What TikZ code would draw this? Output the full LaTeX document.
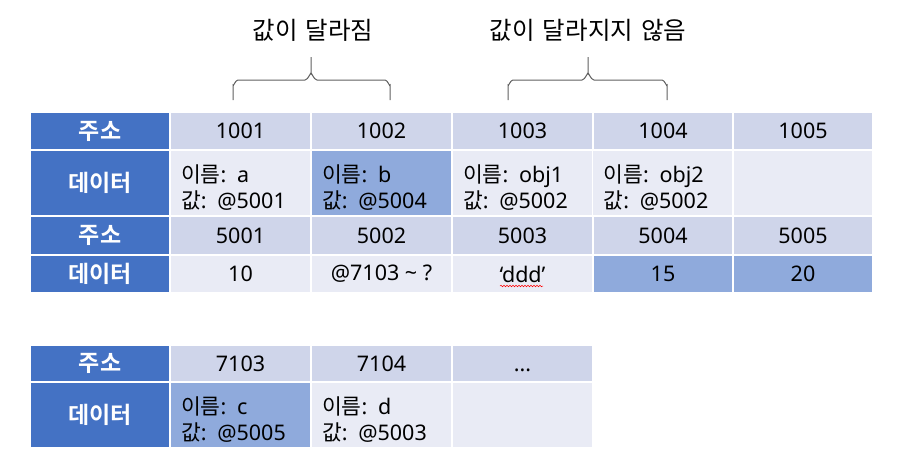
\documentclass[tikz,border=0pt]{standalone}
\usepackage{fontspec}
\setmainfont{Noto Sans}
\newfontfamily\kr{Noto Sans CJK KR}[BoldFont={Noto Sans CJK KR Bold}]
\usetikzlibrary{decorations.pathmorphing}
\definecolor{hdr}{HTML}{4472C4}
\definecolor{addr}{HTML}{CFD5EA}
\definecolor{dat}{HTML}{E9EBF5}
\definecolor{hil}{HTML}{8FAADC}
\definecolor{bracec}{HTML}{5F5F5F}
\newcommand\mycell[7]{\node[cellbox,#6,minimum width={(#4-#2)*1pt},minimum height={(#5-#3)*1pt}] (#1) at ({(#2+#4)/2},{(#3+#5)/2}) {#7};}
\newcommand\nm[1]{\rule{0pt}{26pt}{\kr 이름}: #1}
\newcommand\vl[1]{{\kr 값}: #1}
\tikzset{
  cellbox/.style={draw=white,line width=1.5pt,inner sep=0pt,font=\fontsize{21.5}{26}\selectfont,text=black},
  hdrcell/.style={fill=hdr,text=white,font=\fontsize{23}{26}\selectfont\kr\bfseries},
  addrcell/.style={fill=addr},
  datcell/.style={fill=dat},
  hilcell/.style={fill=hil},
  leftcell/.style={text width=119pt,inner xsep=11pt,inner ysep=0pt,align=left},
  brace/.style={draw=bracec,line width=1pt},
  lbl/.style={font=\fontsize{24.5}{27}\selectfont\kr,inner sep=0pt}
}
\begin{document}
\begin{tikzpicture}[x=1pt,y=-1pt]
\useasboundingbox (0,0) rectangle (911,475);
% labels
\node[lbl] (l1) at (313,30) {값이\hspace{0.1em} 달라짐};
\node[lbl] (l2) at (588,30) {값이\hspace{0.1em} 달라지지\hspace{0.1em} 않음};
% braces
\draw[brace] (233,100) -- (233,85) to[out=-90,in=180] (238,80) -- (305,80) to[out=0,in=90] (311,74) -- (311,57);
\draw[brace] (311,74) to[out=90,in=180] (317,80) -- (385,80) to[out=0,in=-90] (390,85) -- (390,100);
\draw[brace] (508,100) -- (508,85) to[out=-90,in=180] (513,80) -- (582,80) to[out=0,in=90] (588,74) -- (588,57);
\draw[brace] (588,74) to[out=90,in=180] (594,80) -- (662,80) to[out=0,in=-90] (667,85) -- (667,100);
% table 1 row 1
\mycell{h1}{30}{112}{170}{150}{hdrcell}{주소}
\mycell{a1}{170}{112}{311}{150}{addrcell}{1001}
\mycell{a2}{311}{112}{452}{150}{addrcell}{1002}
\mycell{a3}{452}{112}{593}{150}{addrcell}{1003}
\mycell{a4}{593}{112}{733}{150}{addrcell}{1004}
\mycell{a5}{733}{112}{873}{150}{addrcell}{1005}
% row 2
\mycell{h2}{30}{150}{170}{216}{hdrcell}{데이터}
\mycell{d1}{170}{150}{311}{216}{datcell,leftcell}{\nm{a}\\\vl{@5001}}
\mycell{d2}{311}{150}{452}{216}{hilcell,leftcell}{\nm{b}\\\vl{@5004}}
\mycell{d3}{452}{150}{593}{216}{datcell,leftcell}{\nm{obj1}\\\vl{@5002}}
\mycell{d4}{593}{150}{733}{216}{datcell,leftcell}{\nm{obj2}\\\vl{@5002}}
\mycell{d5}{733}{150}{873}{216}{datcell}{}
% row 3
\mycell{h3}{30}{216}{170}{255}{hdrcell}{주소}
\mycell{b1}{170}{216}{311}{255}{addrcell}{5001}
\mycell{b2}{311}{216}{452}{255}{addrcell}{5002}
\mycell{b3}{452}{216}{593}{255}{addrcell}{5003}
\mycell{b4}{593}{216}{733}{255}{addrcell}{5004}
\mycell{b5}{733}{216}{873}{255}{addrcell}{5005}
% row 4
\mycell{h4}{30}{255}{170}{293}{hdrcell}{데이터}
\mycell{e1}{170}{255}{311}{293}{datcell}{10}
\mycell{e2}{311}{255}{452}{293}{datcell}{@7103 \textasciitilde{} ?}
\mycell{e3}{452}{255}{593}{293}{datcell}{‘ddd’}
\mycell{e4}{593}{255}{733}{293}{hilcell}{15}
\mycell{e5}{733}{255}{873}{293}{hilcell}{20}
\draw[red,line width=0.5pt,decorate,decoration={snake,amplitude=0.8pt,segment length=3pt}] (500,286) -- (543,286);
% table 2
\mycell{h5}{30}{345}{170}{382}{hdrcell}{주소}
\mycell{f1}{170}{345}{311}{382}{addrcell}{7103}
\mycell{f2}{311}{345}{452}{382}{addrcell}{7104}
\mycell{f3}{452}{345}{593}{382}{addrcell}{\vphantom{0}...}
\mycell{h6}{30}{382}{170}{448}{hdrcell}{데이터}
\mycell{g1}{170}{382}{311}{448}{hilcell,leftcell}{\nm{c}\\\vl{@5005}}
\mycell{g2}{311}{382}{452}{448}{datcell,leftcell}{\nm{d}\\\vl{@5003}}
\mycell{g3}{452}{382}{593}{448}{datcell}{}
\end{tikzpicture}
\end{document}
